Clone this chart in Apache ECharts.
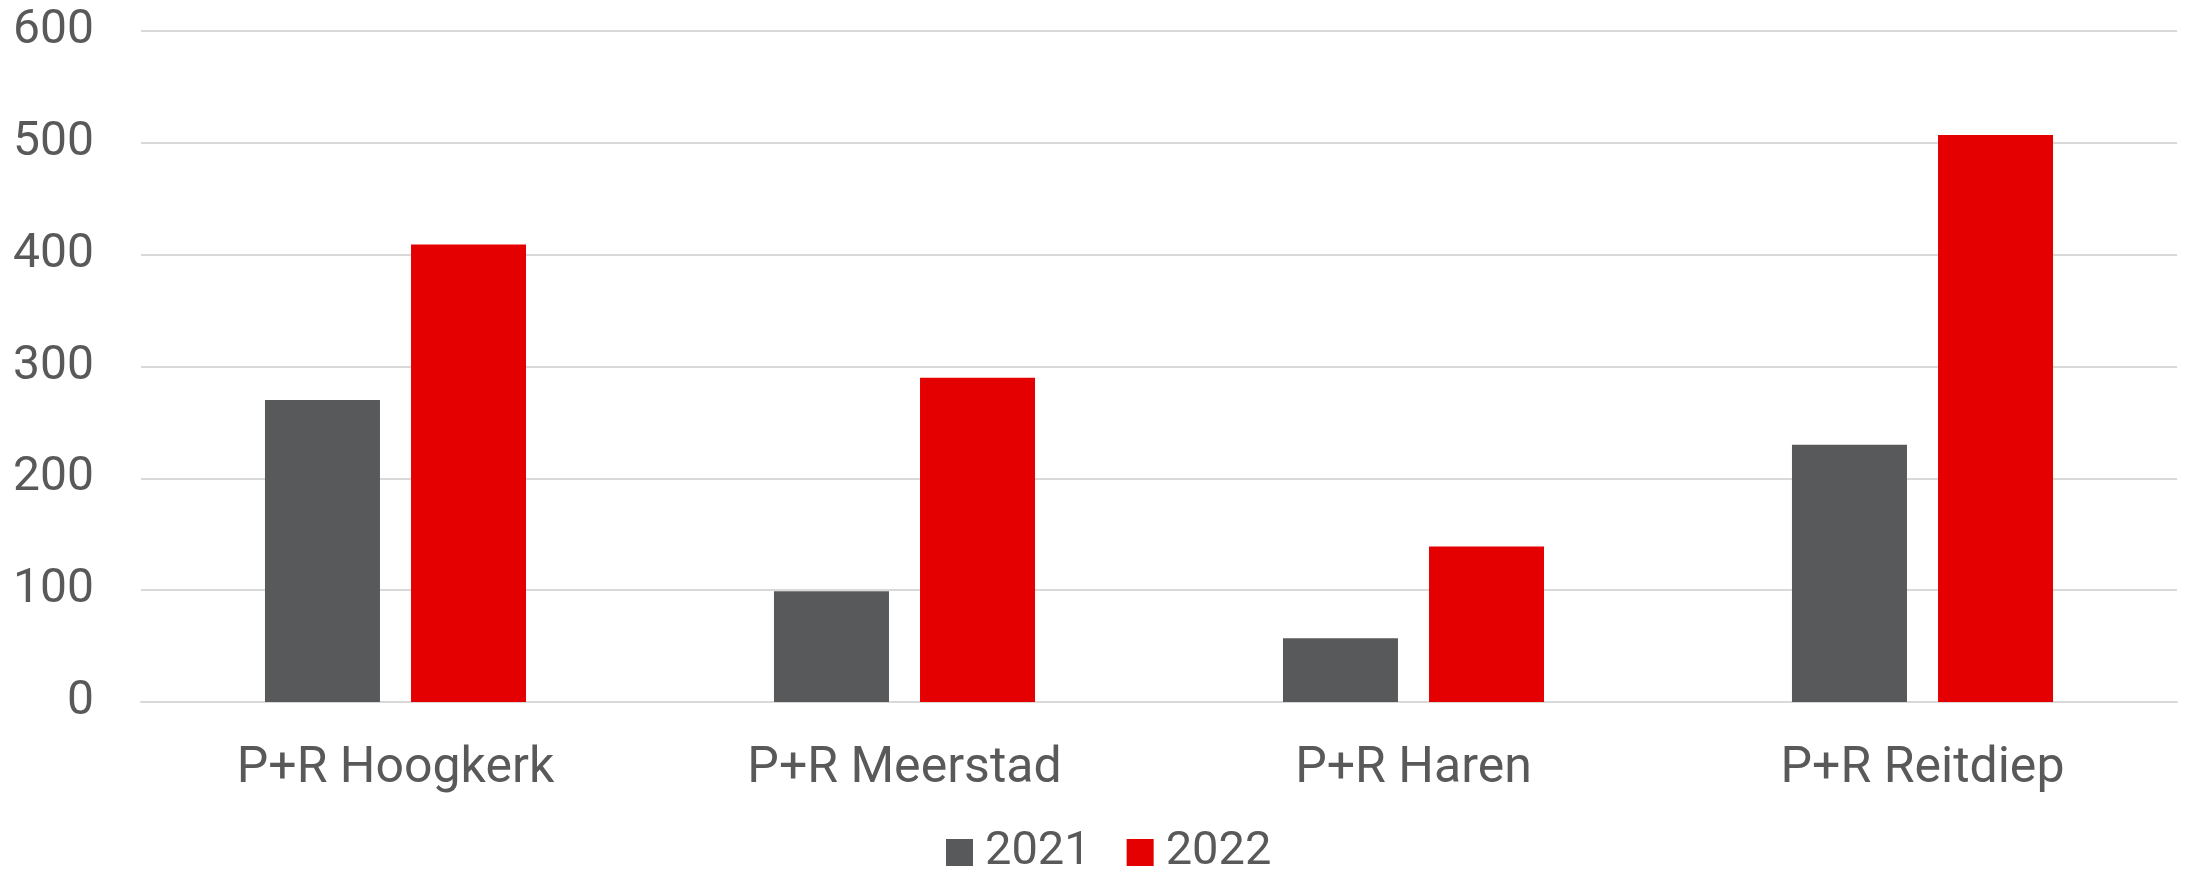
<!DOCTYPE html>
<html>
<head>
<meta charset="utf-8">
<script src="https://cdn.jsdelivr.net/npm/echarts@6/dist/echarts.min.js"></script>
<style>
html,body{margin:0;padding:0;background:#fff;}
#chart{width:2190px;height:872px;}
</style>
</head>
<body>
<div id="chart"></div>
<script>
const categories = ['P+R Hoogkerk', 'P+R Meerstad', 'P+R Haren', 'P+R Reitdiep'];
const seriesNames = ['2021', '2022'];
const values2021 = [270, 99, 57, 230];
const values2022 = [409, 290, 139, 507];
const yTicks = [0, 100, 200, 300, 400, 500, 600];

const FONT = 'Roboto, "Liberation Sans", sans-serif';
const TEXT = '#595959';

const chart = echarts.init(document.getElementById('chart'), null, {renderer: 'canvas'});
chart.setOption({
  animation: false,
  backgroundColor: '#ffffff',
  textStyle: {fontFamily: FONT},
  grid: {left: 141, right: 13, top: 31, bottom: 170, containLabel: false},
  legend: {
    data: seriesNames,
    left: 946,
    top: 829,
    padding: 0,
    itemWidth: 27,
    itemHeight: 27,
    itemGap: 36,
    icon: 'rect',
    textStyle: {color: TEXT, fontSize: 47, fontFamily: FONT, padding: [0, 0, 0, 7]},
    selectedMode: false
  },
  xAxis: {
    type: 'category',
    data: categories,
    axisLine: {show: true, lineStyle: {color: '#d9d9d9', width: 2}},
    axisTick: {show: false},
    axisLabel: {color: TEXT, fontSize: 50, fontFamily: FONT, margin: 42}
  },
  yAxis: {
    type: 'value',
    min: yTicks[0],
    max: yTicks[yTicks.length - 1],
    interval: yTicks[1] - yTicks[0],
    axisLine: {show: false},
    axisTick: {show: false},
    splitLine: {lineStyle: {color: '#d9d9d9', width: 2}},
    axisLabel: {color: TEXT, fontSize: 48, fontFamily: FONT, margin: 47}
  },
  series: [
    {
      name: seriesNames[0],
      type: 'bar',
      data: values2021,
      barWidth: 115,
      barGap: '27%',
      itemStyle: {color: '#58595b'}
    },
    {
      name: seriesNames[1],
      type: 'bar',
      data: values2022,
      barWidth: 115,
      barGap: '27%',
      itemStyle: {color: '#e40000'}
    }
  ]
});
</script>
</body>
</html>
